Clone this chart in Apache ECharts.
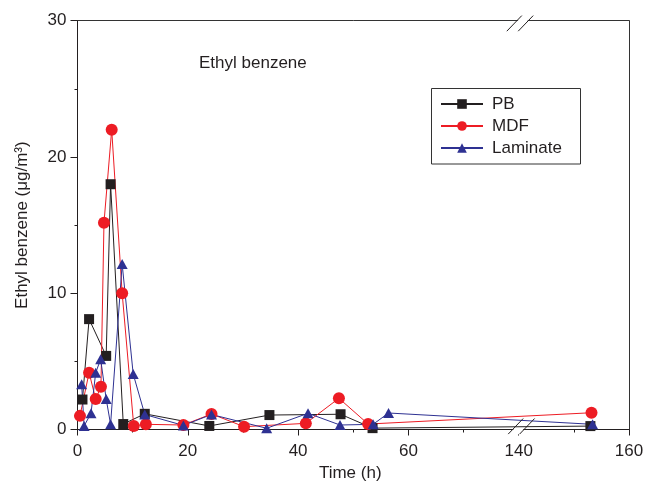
<!DOCTYPE html>
<html>
<head>
<meta charset="utf-8">
<script src="https://cdn.jsdelivr.net/npm/echarts@6/dist/echarts.min.js"></script>
<style>
  html, body { margin: 0; padding: 0; background: #fff; }
  #chart { width: 650px; height: 481px; }
</style>
</head>
<body>
<div id="chart"></div>
<script>
// Measured concentrations (µg/m³) against sampling time (h)
const pbTime   = [0.9, 2.1, 5.2, 6.0, 8.3, 12.2, 23.9, 34.8, 47.7, 53.5, 153];
const pbValue  = [2.2, 8.1, 5.4, 18.0, 0.4, 1.15, 0.26, 1.06, 1.12, 0.1, 0.25];

const mdfTime  = [0.45, 2.1, 3.3, 4.25, 4.8, 6.2, 8.1, 10.2, 12.4, 19.2, 24.3, 30.2, 41.4, 47.4, 52.7, 153.2];
const mdfValue = [1.0, 4.17, 2.24, 3.14, 15.17, 22.0, 10.0, 0.26, 0.38, 0.33, 1.14, 0.21, 0.45, 2.29, 0.4, 1.23];

const lamTime  = [0.75, 1.2, 2.45, 3.3, 4.2, 5.2, 6.0, 8.1, 10.1, 12.2, 19.2, 24.3, 34.3, 41.8, 47.6, 53.6, 56.4, 153.4];
const lamValue = [3.32, 0.26, 1.19, 4.17, 5.15, 2.24, 0.38, 12.14, 4.07, 1.1, 0.3, 1.1, 0.09, 1.19, 0.33, 0.38, 1.21, 0.38];

const xTickLabels = ['0', '20', '40', '60', '140', '160'];
const yTickLabels = ['0', '10', '20', '30'];

// The time axis is broken: hours 80..140 are cut out, so later hours slide left by 60.
const BREAK_FROM = 80, BREAK_TO = 140;
function axisPos(h) { return h <= BREAK_FROM ? h : h - (BREAK_TO - BREAK_FROM); }
function pairs(times, values) { return times.map((t, i) => [axisPos(t), values[i]]); }

const FONT = '"Liberation Sans", Arial, Helvetica, sans-serif';
const INK = '#231f20';
const chart = echarts.init(document.getElementById('chart'), null, { renderer: 'canvas' });

const plainAxisFrame = {
  axisTick: { show: false }, axisLabel: { show: false }, splitLine: { show: false },
  axisLine: { show: true, onZero: false, lineStyle: { color: '#333', width: 1 } }
};

chart.setOption({
  animation: false,
  backgroundColor: '#fff',
  textStyle: { fontFamily: FONT },
  grid: { left: 77.5, right: 21, top: 20.7, bottom: 51.5, show: false, containLabel: false, outerBoundsMode: 'none' },
  xAxis: [{
    type: 'value', min: 0, max: 100, interval: 20,
    axisLine: { show: true, onZero: false, lineStyle: { color: INK, width: 1 } },
    axisTick: { show: true, length: 6, lineStyle: { color: INK } },
    minorTick: { show: true, splitNumber: 2, length: 3, lineStyle: { color: INK } },
    splitLine: { show: false },
    axisLabel: { margin: 13, fontSize: 17, color: INK, fontFamily: FONT,
      formatter: v => xTickLabels[Math.round(v / 20)] },
    name: 'Time (h)', nameLocation: 'middle', nameGap: 27,
    nameTextStyle: { fontSize: 17, color: INK, fontFamily: FONT, padding: [0, 6, 0, 0] }
  }, Object.assign({ type: 'value', position: 'top', min: 0, max: 100 }, plainAxisFrame)],
  yAxis: [{
    type: 'value', min: 0, max: 30, interval: 10,
    axisLine: { show: true, onZero: false, lineStyle: { color: INK, width: 1 } },
    axisTick: { show: true, length: 7, lineStyle: { color: INK } },
    minorTick: { show: true, splitNumber: 2, length: 3, lineStyle: { color: INK } },
    splitLine: { show: false },
    axisLabel: { margin: 11, fontSize: 17, color: INK, fontFamily: FONT,
      formatter: v => yTickLabels[Math.round(v / 10)] },
    name: 'Ethyl benzene (\u03bcg/m\u00b3)', nameLocation: 'middle', nameGap: 47, nameRotate: 90,
    nameTextStyle: { fontSize: 17, color: INK, fontFamily: FONT }
  }, Object.assign({ type: 'value', position: 'right', min: 0, max: 30 }, plainAxisFrame)],
  legend: {
    orient: 'vertical', left: 440, top: 95.5, padding: 0,
    itemWidth: 42, itemHeight: 12, itemGap: 5,
    textStyle: { fontSize: 17, color: INK, fontFamily: FONT, padding: [0, 0, 0, 4] },
    data: ['PB', 'MDF', 'Laminate']
  },
  series: [{
    name: 'PB', type: 'line', data: pairs(pbTime, pbValue),
    symbol: 'rect', symbolSize: 10,
    lineStyle: { color: INK, width: 1 }, itemStyle: { color: INK }
  }, {
    name: 'MDF', type: 'line', data: pairs(mdfTime, mdfValue),
    symbol: 'circle', symbolSize: 12,
    lineStyle: { color: '#ed1c24', width: 1 }, itemStyle: { color: '#ed1c24' }
  }, {
    name: 'Laminate', type: 'line', data: pairs(lamTime, lamValue),
    symbol: 'triangle', symbolSize: [11, 10],
    lineStyle: { color: '#2e3192', width: 1 }, itemStyle: { color: '#2e3192' }
  }]
});

// Axis-break marks, a legend frame and the panel caption
const bx = chart.convertToPixel({ xAxisIndex: 0 }, BREAK_FROM);
const yBottom = chart.convertToPixel({ yAxisIndex: 0 }, 0);
const yTop = chart.convertToPixel({ yAxisIndex: 0 }, 30);
const SL = 7.5 / 7.8;

function breakMarks(cx, cy, axisY, below, above) {
  const c1 = cx - 5.7, c2 = cx + 5.7;
  const xAt = (c, y) => c + (cy - y) * SL;
  const ya = axisY - above, yb = axisY + below;
  return [{
    type: 'polygon', z: 100,
    shape: { points: [[xAt(c1, ya) + 0.8, ya], [xAt(c2, ya) - 0.8, ya], [xAt(c2, yb) - 0.8, yb], [xAt(c1, yb) + 0.8, yb]] },
    style: { fill: '#fff', stroke: null }
  }].concat([c1, c2].map(c => ({
    type: 'line', z: 101,
    shape: { x1: c - 7.5, y1: cy + 7.8, x2: c + 7.5, y2: cy - 7.8 },
    style: { stroke: INK, lineWidth: 1 }
  })));
}

chart.setOption({
  graphic: [].concat(
    breakMarks(bx + 1.3, yTop + 2.7, yTop, 2, 2),
    breakMarks(bx + 2.7, yBottom - 3.2, yBottom, 7, 1.5),
    [{
      type: 'rect', z: 90,
      shape: { x: 431.5, y: 88.5, width: 149, height: 75.5 },
      style: { fill: 'none', stroke: '#333', lineWidth: 1 }
    }, {
      type: 'text', z: 90, x: 199, y: 63,
      style: { text: 'Ethyl benzene', font: '17px ' + FONT, fill: INK, verticalAlign: 'middle', align: 'left' }
    }]
  )
});
</script>
</body>
</html>
